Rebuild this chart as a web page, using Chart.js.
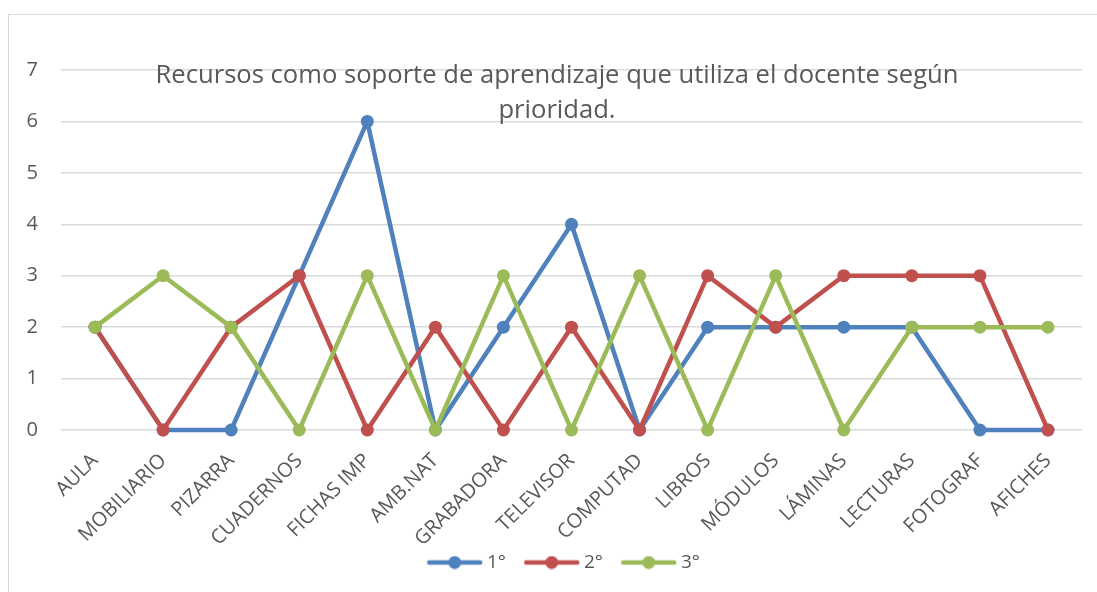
<!DOCTYPE html>
<html>
<head>
<meta charset="utf-8">
<script src="https://cdn.jsdelivr.net/npm/chart.js@4"></script>
<style>
    body { margin: 0; background: #ffffff; }
    #frame {
        position: absolute; left: 8px; top: 14px; width: 1100px; height: 600px;
        border: 1px solid #d9d9d9; box-sizing: border-box;
    }
    #wrap { position: absolute; left: 0; top: 0; width: 1097px; height: 592px; }
</style>
</head>
<body>
<div id="frame"></div>
<div id="wrap"><canvas id="chart" width="1097" height="592"></canvas></div>
<script>
// Chart data
const categories = ['AULA', 'MOBILIARIO', 'PIZARRA', 'CUADERNOS', 'FICHAS IMP', 'AMB.NAT', 'GRABADORA',
    'TELEVISOR', 'COMPUTAD', 'LIBROS', 'MÓDULOS', 'LÁMINAS', 'LECTURAS', 'FOTOGRAF', 'AFICHES'];
const primero = [2, 0, 0, 3, 6, 0, 2, 4, 0, 2, 2, 2, 2, 0, 0];
const segundo = [2, 0, 2, 3, 0, 2, 0, 2, 0, 3, 2, 3, 3, 3, 0];
const tercero = [2, 3, 2, 0, 3, 0, 3, 0, 3, 0, 3, 0, 2, 2, 2];
const seriesNames = ['1°', '2°', '3°'];
const yTicks = [0, 1, 2, 3, 4, 5, 6, 7];
const titleLines = ['Recursos como soporte de aprendizaje que utiliza el docente según', 'prioridad.'];

const colors = ['#4f81bd', '#c0504d', '#9bbb59'];
const textColor = '#595959';
const fontFamily = "'Open Sans', sans-serif";

// legend marker: short line with a dot; drawn off-centre so the gaps match Excel
function legendMarker(color) {
    const c = document.createElement('canvas');
    c.width = 72;
    c.height = 14;
    const g = c.getContext('2d');
    g.strokeStyle = color;
    g.lineWidth = 4.5;
    g.lineCap = 'round';
    g.beginPath();
    g.moveTo(17, 7);
    g.lineTo(68, 7);
    g.stroke();
    g.fillStyle = color;
    g.beginPath();
    g.arc(42.5, 7, 6.5, 0, Math.PI * 2);
    g.fill();
    return c;
}

// title is drawn inside the plot, over the gridlines
const overlayTitle = {
    id: 'overlayTitle',
    afterLayout(chart) {
        // nudge the legend a bit left, like the original
        chart.legend.left -= 12;
        chart.legend.right -= 12;
    },
    afterDraw(chart) {
        const ctx = chart.ctx;
        ctx.save();
        ctx.font = "25.6px " + fontFamily;
        ctx.fillStyle = textColor;
        ctx.textAlign = 'center';
        ctx.textBaseline = 'alphabetic';
        titleLines.forEach((line, i) => {
            ctx.fillText(line, 557, 83 + i * 35);
        });
        ctx.restore();
    }
};

const allSeries = [primero, segundo, tercero];

new Chart(document.getElementById('chart'), {
    type: 'line',
    data: {
        labels: categories,
        datasets: allSeries.map((values, i) => ({
            label: seriesNames[i],
            data: values,
            borderColor: colors[i],
            backgroundColor: colors[i],
            borderWidth: 4.5,
            pointRadius: 6.5,
            pointHoverRadius: 6.5,
            pointBorderWidth: 0,
            pointStyle: 'circle',
            tension: 0,
            clip: false,
            order: 3 - i
        }))
    },
    options: {
        responsive: false,
        animation: false,
        layout: {
            padding: { top: 70, left: 9, right: 15, bottom: 10 }
        },
        scales: {
            x: {
                offset: true,
                grid: { display: false },
                border: { display: false },
                ticks: {
                    color: textColor,
                    font: { family: fontFamily, size: 20 },
                    maxRotation: 45,
                    minRotation: 45,
                    padding: 11
                },
                afterFit(scale) { scale.height = 113; }
            },
            y: {
                min: 0,
                max: 7,
                afterBuildTicks(scale) {
                    scale.ticks = yTicks.map(v => ({ value: v }));
                },
                grid: { color: '#d9d9d9', lineWidth: 1.5, drawTicks: false },
                border: { display: false },
                ticks: {
                    color: textColor,
                    font: { family: fontFamily, size: 20 },
                    padding: 23
                },
                afterFit(scale) { scale.width = 52; }
            }
        },
        plugins: {
            legend: {
                position: 'bottom',
                fullSize: false,
                labels: {
                    color: textColor,
                    font: { family: fontFamily, size: 19 },
                    usePointStyle: true,
                    pointStyleWidth: 58.5,
                    padding: 10,
                    generateLabels(chart) {
                        return chart.data.datasets.map((ds, i) => ({
                            text: ds.label,
                            pointStyle: legendMarker(colors[i]),
                            fillStyle: colors[i],
                            strokeStyle: colors[i],
                            lineWidth: 0,
                            fontColor: textColor,
                            datasetIndex: i,
                            hidden: false
                        }));
                    }
                }
            },
            title: { display: false },
            tooltip: { enabled: false }
        }
    },
    plugins: [overlayTitle]
});
</script>
</body>
</html>
